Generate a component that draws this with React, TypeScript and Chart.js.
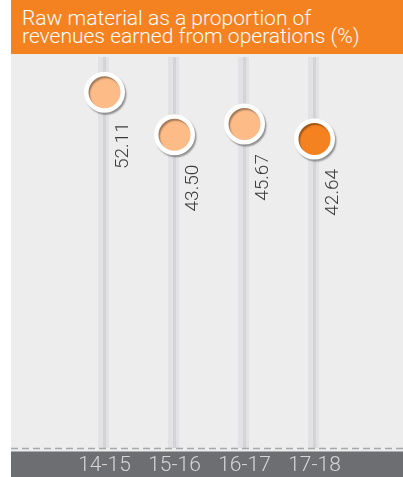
import React, { useEffect, useRef } from "react";
import { Chart, registerables } from "chart.js";

Chart.register(...registerables);

const TITLE_LINES = ["Raw material as a proportion of", "revenues earned from operations (%)"];
const CATEGORIES = ["14-15", "15-16", "16-17", "17-18"];
const VALUES = [52.11, 43.5, 45.67, 42.64];
const VALUE_LABELS = ["52.11", "43.50", "45.67", "42.64"];
const POINT_COLORS = ["#fcbb87", "#fcbb87", "#fcbb87", "#f58220"];

const W = 403;
const H = 477;
const PANEL_LEFT = 11;

const decorPlugin = {
  id: "decor",
  beforeDraw(chart: any) {
    const { ctx, chartArea, scales } = chart;
    ctx.save();
    ctx.fillStyle = "#ededed";
    ctx.fillRect(PANEL_LEFT, 0, W - PANEL_LEFT, H);
    ctx.fillStyle = "#6d6e71";
    ctx.fillRect(PANEL_LEFT, chartArea.bottom + 3.5, W - PANEL_LEFT, H - chartArea.bottom - 3.5);
    const x = scales.x;
    for (let i = 0; i < CATEGORIES.length; i++) {
      const cx = x.getPixelForValue(i);
      ctx.fillStyle = "#e2e2e4";
      ctx.fillRect(cx - 6.5, chartArea.top, 11, chartArea.bottom - chartArea.top);
      ctx.fillStyle = "#d4d4d6";
      ctx.fillRect(cx - 1.5, chartArea.top, 3, chartArea.bottom - chartArea.top);
    }
    ctx.strokeStyle = "#a9a9ab";
    ctx.lineWidth = 1.5;
    ctx.setLineDash([7, 4]);
    ctx.beginPath();
    ctx.moveTo(PANEL_LEFT, chartArea.bottom + 0.5);
    ctx.lineTo(W, chartArea.bottom + 0.5);
    ctx.stroke();
    ctx.restore();
  },
  beforeDatasetsDraw(chart: any) {
    const { ctx } = chart;
    ctx.save();
    ctx.shadowColor = "rgba(0,0,0,0.35)";
    ctx.shadowOffsetX = 1.5;
    ctx.shadowOffsetY = 2;
    ctx.shadowBlur = 1.5;
  },
  afterDatasetsDraw(chart: any) {
    const { ctx } = chart;
    ctx.restore();
    const meta = chart.getDatasetMeta(0);
    ctx.save();
    ctx.fillStyle = "#3c3c3c";
    ctx.font = "300 19px Roboto";
    ctx.textAlign = "right";
    ctx.textBaseline = "alphabetic";
    meta.data.forEach((pt: any, i: number) => {
      ctx.save();
      ctx.translate(pt.x + 23, pt.y + 30);
      ctx.rotate(-Math.PI / 2);
      ctx.fillText(VALUE_LABELS[i], 0, 0);
      ctx.restore();
    });
    ctx.restore();
  },
};

export default function App() {
  const ref = useRef<HTMLCanvasElement | null>(null);
  useEffect(() => {
    if (!ref.current) return;
    const chart = new Chart(ref.current, {
      type: "line",
      data: {
        labels: CATEGORIES,
        datasets: [
          {
            data: VALUES,
            showLine: false,
            pointRadius: 18.25,
            pointHoverRadius: 18.25,
            pointBorderWidth: 4.5,
            pointBorderColor: "#ffffff",
            pointBackgroundColor: POINT_COLORS,
          },
        ],
      },
      options: {
        responsive: false,
        animation: false,
        events: [],
        layout: { padding: { left: 69.5, right: 53.5, top: 57, bottom: 0 } },
        plugins: { legend: { display: false }, tooltip: { enabled: false }, title: { display: false } },
        scales: {
          x: {
            type: "category",
            offset: true,
            grid: { display: false, drawTicks: false },
            border: { display: false },
            ticks: {
              color: "#d6d6d8",
              font: { family: "Roboto", size: 21, weight: "300" },
              padding: 5,
              maxRotation: 0,
              autoSkip: false,
            },
            afterFit: (scale: any) => {
              scale.height = 29;
            },
          },
          y: {
            display: false,
            min: -20.04,
            max: 59.27,
          },
        },
      },
      plugins: [decorPlugin],
    });
    return () => chart.destroy();
  }, []);

  return (
    <div style={{ position: "fixed", left: 0, top: 0, width: W, height: H, background: "#ffffff" }}>
      <canvas ref={ref} width={W} height={H} style={{ position: "absolute", left: 0, top: 0, width: W, height: H }} />
      <div
        style={{
          position: "absolute",
          left: PANEL_LEFT,
          top: 0,
          width: W - PANEL_LEFT,
          height: 54,
          background: "#f58220",
          color: "#ffffff",
          fontFamily: "Roboto, sans-serif",
          fontWeight: 300,
          fontSize: 21,
          lineHeight: "18.5px",
          paddingLeft: 11,
          paddingTop: 8.6,
          boxSizing: "border-box",
          whiteSpace: "nowrap",
        }}
      >
        {TITLE_LINES.map((l) => (
          <div key={l}>{l}</div>
        ))}
      </div>
    </div>
  );
}
